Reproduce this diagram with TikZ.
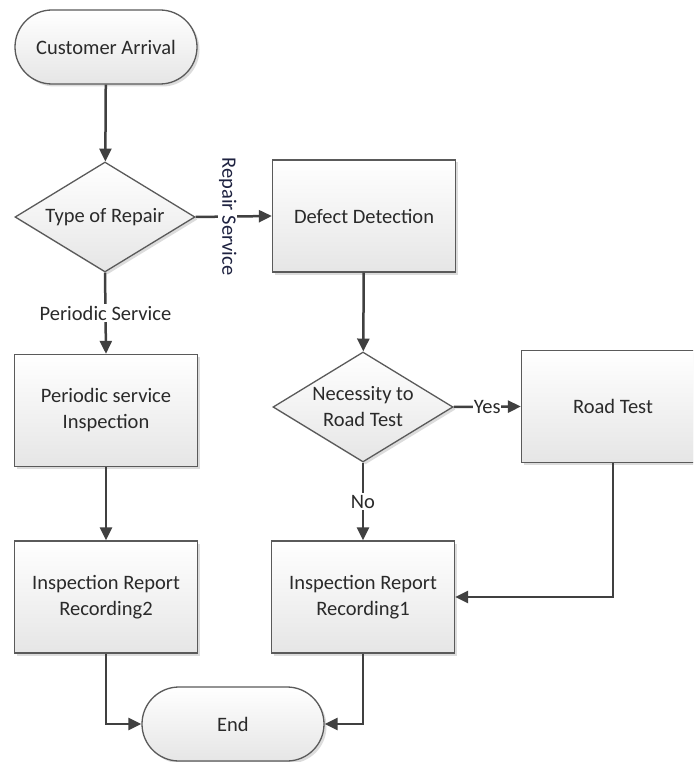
\documentclass[tikz,border=0pt]{standalone}
\usepackage{fontspec}
\setmainfont{Carlito}
\usetikzlibrary{shapes.geometric,shapes.misc,arrows.meta,shadows}
\definecolor{edge}{HTML}{5A5A5A}
\definecolor{wire}{HTML}{404040}
\definecolor{ink}{HTML}{2A2A2A}
\definecolor{navyink}{HTML}{1E2240}
\begin{document}
\begin{tikzpicture}[x=1pt,y=-1pt,
  base/.style={draw=edge,line width=1.3pt,text=ink,align=center,
    font=\fontsize{20.5}{26}\selectfont,top color=white,bottom color=black!10,
    drop shadow={shadow xshift=2.5pt,shadow yshift=-2.5pt,fill=black!30,opacity=.45}},
  procbox/.style={base,rectangle,minimum width=183pt,minimum height=112pt,inner sep=0pt},
  termbox/.style={base,rounded rectangle,minimum width=182pt,minimum height=74pt,inner sep=0pt},
  decbox/.style={base,diamond,aspect=1.64,minimum width=180pt,minimum height=110pt,inner sep=0pt},
  flow/.style={draw=wire,line width=2.5pt,-{Triangle[length=13pt,width=12pt]}},
  lab/.style={fill=white,text=ink,font=\fontsize{20.5}{24}\selectfont,inner sep=2pt}
]
\clip (0,0) rectangle (693,762);
\fill[white] (0,0) rectangle (693,762);

% left column
\node[termbox] (ca)   at (106,47)    {Customer Arrival};
\node[decbox]  (tor)  at (105,217)   {Type of Repair};
\node[procbox] (psi)  at (106,410.5) {Periodic service\\Inspection};
\node[procbox] (irr2) at (106,597)   {Inspection Report\\Recording2};

% right column
\node[procbox] (dd)   at (364,216)   {Defect Detection};
\node[decbox]  (nec)  at (363,407)   {Necessity to\\Road Test};
\node[procbox] (rt)   at (613,406.5) {Road Test};
\node[procbox] (irr1) at (363,597)   {Inspection Report\\Recording1};

% terminator at the bottom
\node[termbox] (end)  at (233,724)   {End};

% connectors
\draw[flow] (ca) -- (tor);
\draw[flow] (tor.east) -- node[lab,pos=0.42,rotate=-90,text=navyink,inner sep=1pt]{Repair Service} (dd.west);
\draw[flow] (tor.south) -- node[lab]{Periodic Service} (psi.north);
\draw[flow] (psi) -- (irr2);
\draw[flow] (irr2.south) |- (end.west);
\draw[flow] (dd) -- (nec);
\draw[flow] (nec.east) -- node[lab,inner sep=0.5pt]{Yes} (rt.west);
\draw[flow] (nec.south) -- node[lab]{No} (irr1.north);
\draw[flow] (rt.south) |- (irr1.east);
\draw[flow] (irr1.south) |- (end.east);
\end{tikzpicture}
\end{document}
